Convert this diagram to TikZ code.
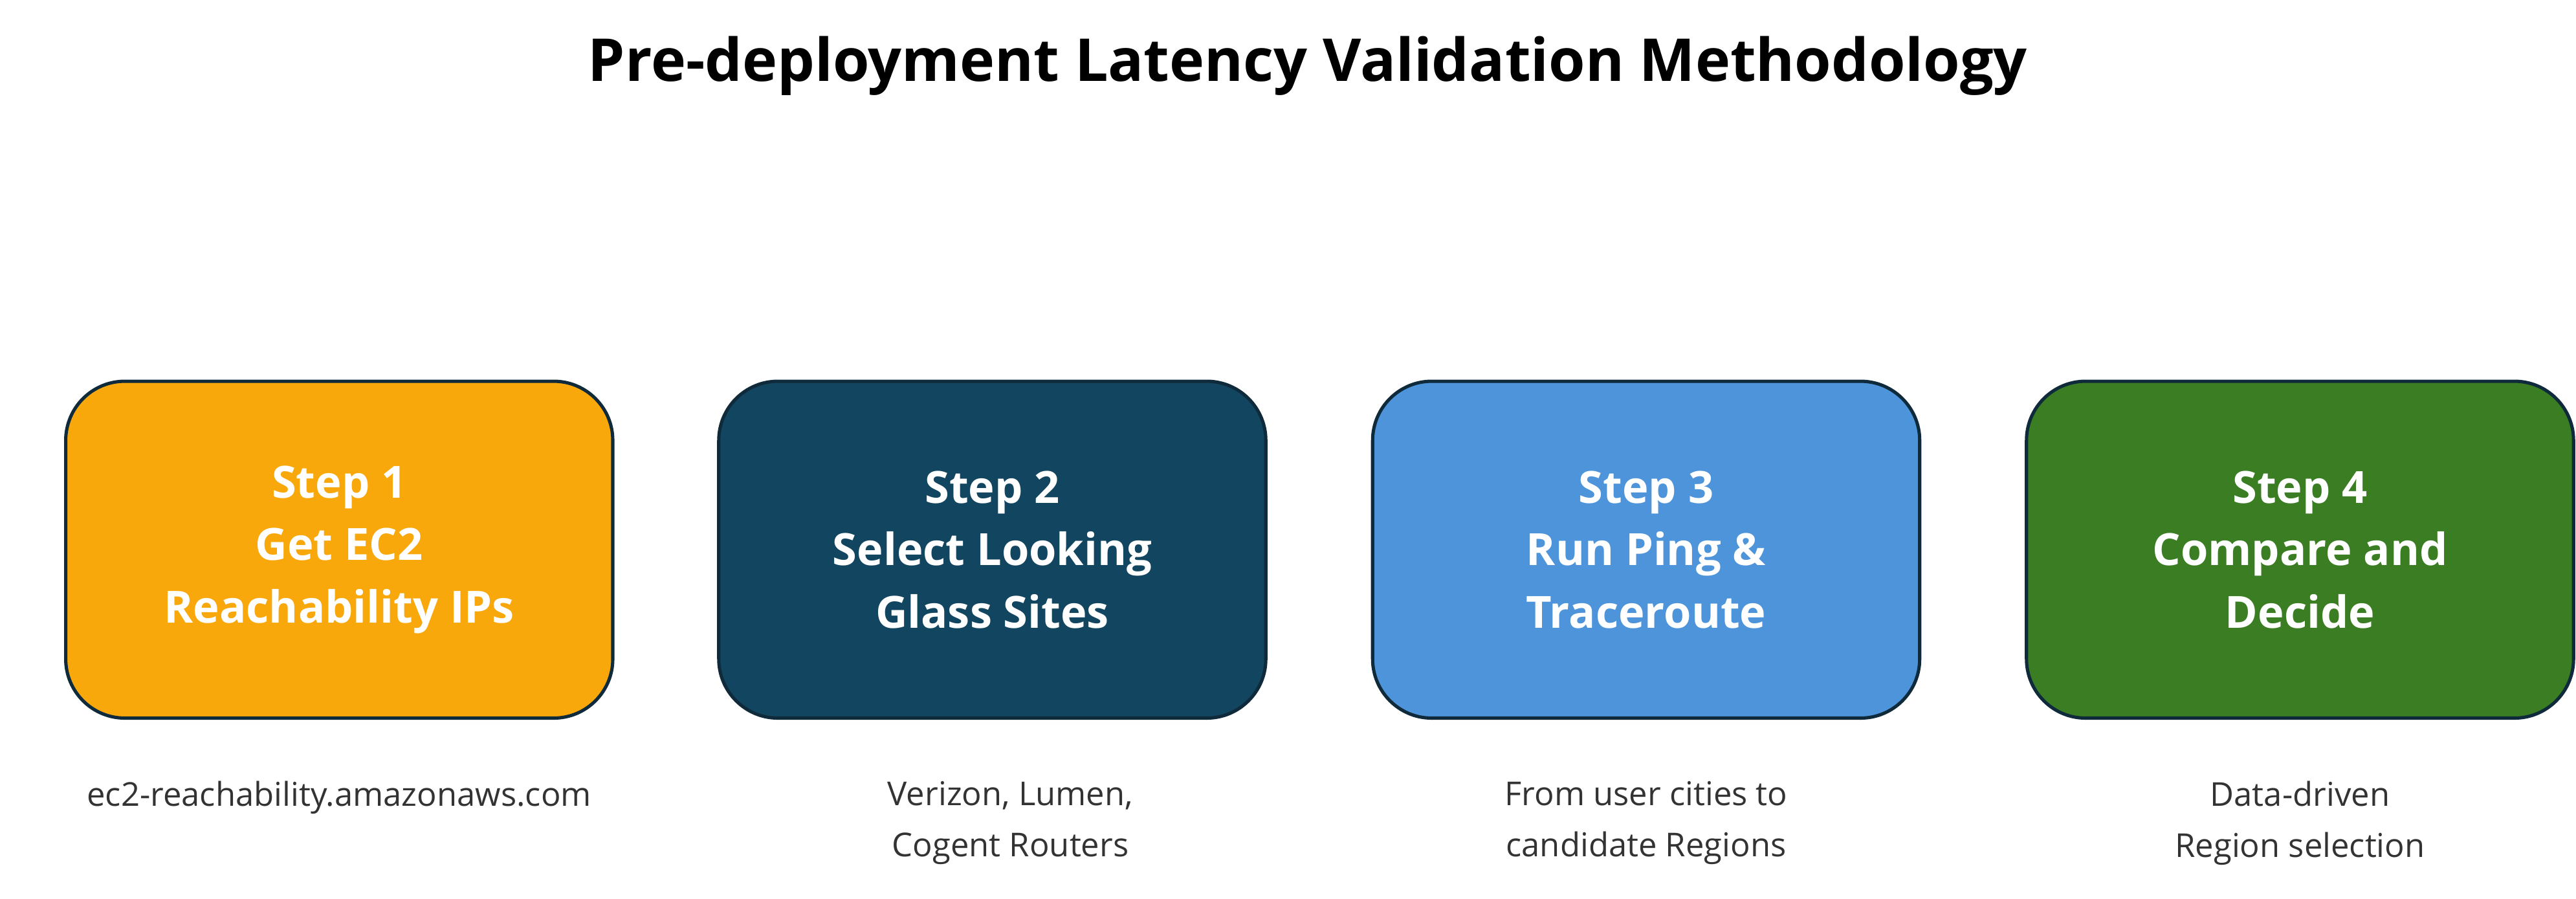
\documentclass[tikz,border=0pt]{standalone}
\usepackage{fontspec}
\setmainfont{Open Sans}
\usetikzlibrary{positioning}
\definecolor{stepone}{HTML}{F9A80C}
\definecolor{steptwo}{HTML}{12455F}
\definecolor{stepthree}{HTML}{4D94DA}
\definecolor{stepfour}{HTML}{3A7D22}
\definecolor{edgeline}{HTML}{0F2A3A}
\definecolor{notetext}{HTML}{333333}
\tikzset{
  stepbox/.style={draw=edgeline, line width=2pt, rounded corners=36pt,
    minimum width=333pt, minimum height=205pt, text=white, align=center,
    font=\fontsize{27}{38}\selectfont\bfseries},
  note/.style={align=center, text=notetext, font=\fontsize{20}{31}\selectfont}
}
\begin{document}
\begin{tikzpicture}[x=1pt, y=-1pt]
    \useasboundingbox (0,0) rectangle (1568,547);
    % Title
    \node[font=\fontsize{36}{40}\selectfont\bfseries] (title) at (796,40) {Pre-deployment Latency Validation Methodology};

    % Steps
    \node[stepbox, fill=stepone] (s1) at (206.5,334.5) {Step 1\\Get EC2\\Reachability IPs};
    \node[stepbox, fill=steptwo] (s2) at (604,334.5) {Step 2\\Select Looking\\Glass Sites};
    \node[stepbox, fill=stepthree] (s3) at (1002,334.5) {Step 3\\Run Ping \&\\Traceroute};
    \node[stepbox, fill=stepfour] (s4) at (1400,334.5) {Step 4\\Compare and\\Decide};

    % Notes
    \node[note, anchor=north] (n1) at (206.5,472) {ec2-reachability.amazonaws.com};
    \node[note, anchor=north] (n2) at (615,472) {Verizon, Lumen,\\Cogent Routers};
    \node[note, anchor=north] (n3) at (1002,472) {From user cities to\\candidate Regions};
    \node[note, anchor=north] (n4) at (1400,472) {Data-driven\\Region selection};
\end{tikzpicture}
\end{document}
